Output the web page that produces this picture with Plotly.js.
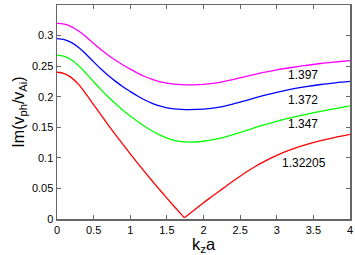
<!DOCTYPE html>
<html>
<head>
<meta charset="utf-8">
<script src="https://cdn.plot.ly/plotly-3.0.1.min.js"></script>
<style>html,body{margin:0;padding:0;background:#fff;}#plot{width:355px;height:255px;}</style>
</head>
<body>
<div id="plot"></div>
<script>
const kz = [0,0.1,0.2,0.3,0.4,0.5,0.6,0.7,0.8,0.9,1.0,1.1,1.2,1.3,1.4,1.5,1.6,1.7,1.8,2.0,2.2,2.4,2.6,2.8,3.0,3.2,3.4,3.6,3.8,4.0];
const im1397 = [0.320,0.3186,0.3143,0.3071,0.2976,0.2871,0.2771,0.2679,0.2595,0.2519,0.2451,0.2387,0.2331,0.2284,0.2247,0.2221,0.2205,0.2197,0.2195,0.2203,0.2232,0.2280,0.2337,0.2393,0.2440,0.2478,0.2512,0.2543,0.2568,0.2590];
const im1372 = [0.295,0.2934,0.2884,0.2801,0.2691,0.2570,0.2454,0.2348,0.2251,0.2163,0.2085,0.2011,0.1946,0.1892,0.1849,0.1819,0.1801,0.1792,0.1789,0.1797,0.1826,0.1880,0.1945,0.2012,0.2071,0.2123,0.2165,0.2200,0.2227,0.2250];
const im1347 = [0.268,0.2660,0.2600,0.2502,0.2377,0.2244,0.2116,0.1996,0.1884,0.1780,0.1684,0.1596,0.1514,0.1440,0.1376,0.1324,0.1286,0.1264,0.1256,0.1272,0.1315,0.1380,0.1455,0.1530,0.1598,0.1658,0.1711,0.1760,0.1805,0.1850];
const kzRed = [0,0.1,0.2,0.3,0.4,0.5,0.6,0.7,0.8,0.9,1.0,1.1,1.2,1.3,1.4,1.5,1.6,1.7,1.74,1.8,1.9,2.0,2.1,2.2,2.3,2.4,2.5,2.6,2.7,2.8,3.0,3.2,3.4,3.6,3.8,4.0];
const im132205 = [0.240,0.2377,0.2308,0.2193,0.2038,0.1870,0.1702,0.1537,0.1377,0.1220,0.1066,0.0915,0.0767,0.0622,0.0480,0.0341,0.0205,0.0072,0.0019,0.0076,0.0170,0.0265,0.0355,0.0443,0.0529,0.0616,0.0700,0.0780,0.0855,0.0923,0.1040,0.1137,0.1215,0.1280,0.1335,0.1383];
const labels = ["1.397","1.372","1.347","1.32205"];
const labelX = [3.36,3.36,3.36,3.37];
const labelY = [0.236,0.194,0.155,0.092];
const colors = ["#ff00ff","#0000ff","#00ff00","#ff0000"];

const cusp = im132205.indexOf(Math.min(...im132205));
const mk = (x,y,c)=>({x:x,y:y,type:'scatter',mode:'lines',line:{color:c,width:1.3,shape:'spline',smoothing:1},showlegend:false,hoverinfo:'none'});
const traces = [
  mk(kz,im1397,colors[0]),
  mk(kz,im1372,colors[1]),
  mk(kz,im1347,colors[2]),
  mk(kzRed.slice(0,cusp+1),im132205.slice(0,cusp+1),colors[3]),
  mk(kzRed.slice(cusp),im132205.slice(cusp),colors[3])
];
const axisCommon = {showline:true,linecolor:'#666',linewidth:1.5,mirror:'ticks',ticks:'inside',ticklen:4,tickcolor:'#666',tickwidth:1,showgrid:false,zeroline:false,tickfont:{family:'Liberation Sans, Arial, sans-serif',size:11,color:'#000'}};
const layout = {
  width:355,height:255,
  margin:{l:57,r:5,t:5,b:36},
  paper_bgcolor:'#fff',plot_bgcolor:'#fff',
  xaxis:Object.assign({},axisCommon,{range:[0,4],dtick:0.5,title:{text:'k<sub>z</sub>a',font:{family:'Liberation Sans, Arial, sans-serif',size:16.5,color:'#000'},standoff:1}}),
  yaxis:Object.assign({},axisCommon,{range:[0,0.35],dtick:0.05,title:{text:'Im(v<sub>ph</sub>/v<sub>Ai</sub>)',font:{family:'Liberation Sans, Arial, sans-serif',size:16,color:'#000'},standoff:3}}),
  annotations: labels.map((t,i)=>({x:labelX[i],y:labelY[i],text:t,showarrow:false,font:{family:'Liberation Sans, Arial, sans-serif',size:12,color:'#000'}}))
};
Plotly.newPlot('plot',traces,layout,{staticPlot:true,displayModeBar:false});
</script>
</body>
</html>
